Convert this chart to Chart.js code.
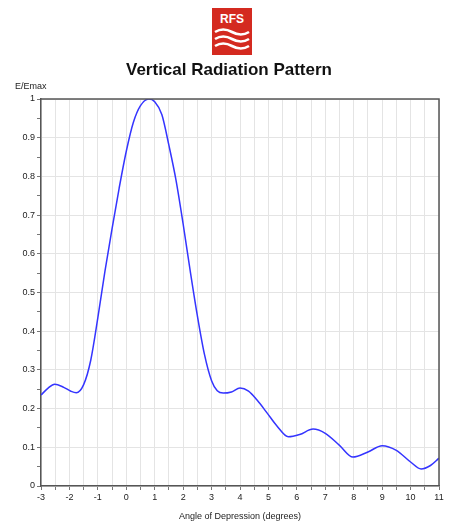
<!DOCTYPE html>
<html>
<head>
<meta charset="utf-8">
<script src="https://cdn.jsdelivr.net/npm/chart.js@4"></script>
<style>
  html, body { margin: 0; padding: 0; background: #fff; }
  #wrap { position: relative; width: 449px; height: 523px; font-family: "Liberation Sans", Arial, sans-serif; }
  #chart { position: absolute; left: 0; top: 0; }
  #logo { position: absolute; left: 212px; top: 8px; }
  #title { position: absolute; left: 0; width: 458px; top: 60px; text-align: center; font-weight: bold; font-size: 17px; color: #111; }
  #ylab { position: absolute; left: 15px; top: 81px; font-size: 9px; color: #222; }
</style>
</head>
<body>
<div id="wrap">
  <canvas id="chart" width="449" height="523"></canvas>
  <svg id="logo" width="40" height="47" viewBox="0 0 40 47">
    <rect x="0" y="0" width="40" height="47" fill="#d42a20"/>
    <text x="20" y="15" text-anchor="middle" font-family="Liberation Sans, Arial" font-weight="bold" font-size="12" fill="#fff">RFS</text>
    <path d="M3 24 Q11 19 20 24 T37 24" stroke="#fff" stroke-width="2.6" fill="none"/>
    <path d="M3 31 Q11 26 20 31 T37 31" stroke="#fff" stroke-width="2.6" fill="none"/>
    <path d="M3 38 Q11 33 20 38 T37 38" stroke="#fff" stroke-width="2.6" fill="none"/>
  </svg>
  <div id="title">Vertical Radiation Pattern</div>
  <div id="ylab">E/Emax</div>
</div>
<script>
// angle of depression (deg) and relative field E/Emax
var angles = [-3, -2.75, -2.52, -2.2, -1.95, -1.76, -1.5, -1.25, -1.0, -0.75, -0.5, -0.25, 0.0, 0.25, 0.5, 0.79, 1.0, 1.25, 1.5, 1.75, 2.0, 2.25, 2.5, 2.75, 3.0, 3.2, 3.41, 3.7, 4.0, 4.3, 4.6, 4.95, 5.3, 5.7, 6.1, 6.57, 7.0, 7.5, 7.97, 8.5, 9.0, 9.5, 10.0, 10.37, 10.7, 11];
var field = [0.235, 0.253, 0.263, 0.255, 0.245, 0.241, 0.262, 0.325, 0.435, 0.555, 0.665, 0.77, 0.865, 0.94, 0.983, 1.0, 0.993, 0.96, 0.88, 0.79, 0.677, 0.555, 0.44, 0.34, 0.272, 0.246, 0.24, 0.243, 0.253, 0.245, 0.222, 0.189, 0.155, 0.127, 0.133, 0.147, 0.136, 0.105, 0.075, 0.088, 0.104, 0.092, 0.062, 0.044, 0.053, 0.072];
var xMin = -3, xMax = 11;
var yMin = 0, yMax = 1;

var points = [];
for (var i = 0; i < angles.length; i++) {
    points.push({x: angles[i], y: field[i]});
}

function isWhole(v, step) {
    var r = v / step;
    return Math.abs(r - Math.round(r)) < 1e-6;
}

// top + right edge of the frame
var framePlugin = {
    id: 'frame',
    afterDraw: function(chart) {
        var a = chart.chartArea, ctx = chart.ctx;
        ctx.save();
        ctx.strokeStyle = '#555';
        ctx.lineWidth = 1.5;
        ctx.beginPath();
        ctx.moveTo(a.left, a.top);
        ctx.lineTo(a.right, a.top);
        ctx.lineTo(a.right, a.bottom);
        ctx.stroke();
        ctx.restore();
    }
};

var tickFont = {family: '"Liberation Sans", Arial, sans-serif', size: 9};

new Chart(document.getElementById('chart'), {
    type: 'line',
    data: {
        datasets: [{
            data: points,
            borderColor: '#3434ff',
            borderWidth: 1.5,
            pointRadius: 0,
            fill: false,
            cubicInterpolationMode: 'monotone'
        }]
    },
    options: {
        responsive: false,
        animation: false,
        layout: {padding: {top: 99, right: 10, left: 0, bottom: 0}},
        plugins: {legend: {display: false}, tooltip: {enabled: false}},
        scales: {
            x: {
                type: 'linear',
                min: xMin, max: xMax,
                afterFit: function(s) { s.height = 37; },
                ticks: {
                    stepSize: 0.5,
                    autoSkip: false,
                    maxRotation: 0,
                    padding: 2,
                    color: '#222',
                    font: tickFont,
                    callback: function(v) { return isWhole(v, 1) ? String(Math.round(v)) : ''; }
                },
                grid: {color: '#e4e4e4', lineWidth: 1, tickLength: 4, tickColor: '#777'},
                border: {color: '#555', width: 1.5},
                title: {display: true, text: 'Angle of Depression (degrees)', color: '#222', font: tickFont, padding: {top: 0, bottom: 1}}
            },
            y: {
                min: yMin, max: yMax,
                afterFit: function(s) { s.width = 41; },
                ticks: {
                    stepSize: 0.05,
                    autoSkip: false,
                    padding: 2,
                    color: '#222',
                    font: tickFont,
                    callback: function(v) { return isWhole(v, 0.1) ? String(Math.round(v * 10) / 10) : ''; }
                },
                grid: {
                    color: function(c) { return isWhole(c.tick.value, 0.1) ? '#e4e4e4' : 'rgba(0,0,0,0)'; },
                    tickColor: '#777',
                    lineWidth: 1,
                    tickLength: 4
                },
                border: {color: '#555', width: 1.5}
            }
        }
    },
    plugins: [framePlugin]
});
</script>
</body>
</html>
